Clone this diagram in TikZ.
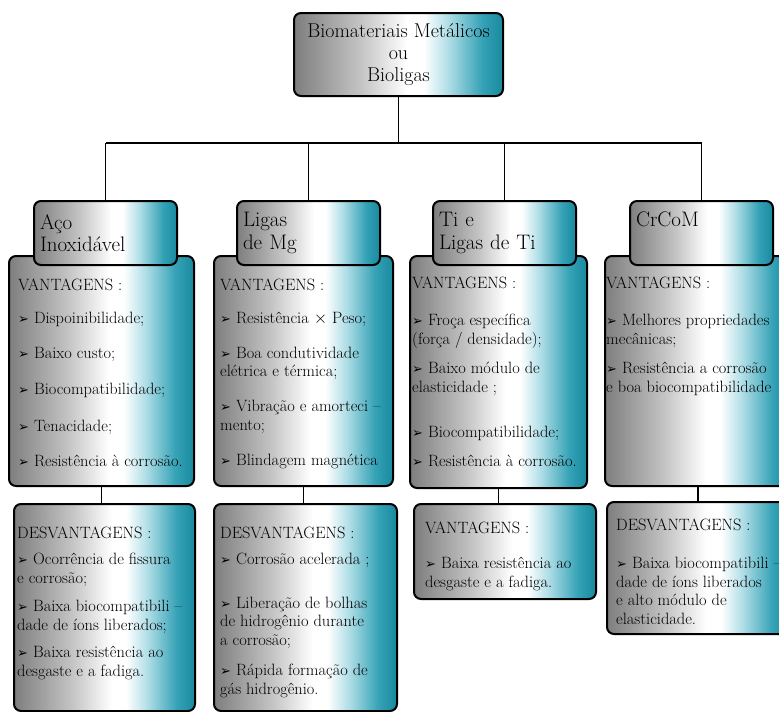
\documentclass[tikz,border=0pt]{standalone}
\usepackage{fontspec}
\newfontfamily\dingfont{DejaVu Sans}
\usetikzlibrary{positioning}
\definecolor{BioGray}{HTML}{7E7E7E}
\definecolor{BioGrayLight}{HTML}{C4C4C4}
\definecolor{BioCyan}{HTML}{AEDDE6}
\definecolor{BioTeal}{HTML}{35A2B6}
\definecolor{BioTealDeep}{HTML}{18899D}
\pgfdeclarehorizontalshading{biofill}{100bp}{color(0bp)=(BioGray); color(25bp)=(BioGray);
  color(41bp)=(BioGrayLight); color(52bp)=(white); color(56bp)=(white); color(62bp)=(BioCyan);
  color(70bp)=(BioTeal); color(75bp)=(BioTealDeep); color(100bp)=(BioTealDeep)}
\newcommand{\bul}{{\dingfont\fontsize{13}{13}\selectfont ➢}\ }
\newcommand{\bodyfont}{\fontsize{16.4}{18.7}\selectfont}
\newcommand{\tabfont}{\fontsize{21}{22.5}\selectfont}
\tikzset{
  card/.style={draw=black,line width=2pt,rounded corners=7pt,shade,shading=biofill,inner sep=0pt},
  tab/.style={card,anchor=north west,minimum height=64pt,text width=131pt,inner xsep=6pt,align=left,font=\tabfont},
  pane/.style={card,anchor=north west},
  txt/.style={anchor=north west,align=left,inner sep=0pt,font=\bodyfont},
  link/.style={line width=1.6pt}
}

\begin{document}
\begin{tikzpicture}[x=1pt,y=-1pt]
  \useasboundingbox (0,0) rectangle (779,712);

  % panels
  \node[pane,minimum width=185pt,minimum height=230pt] (acoV) at (8,255) {};
  \node[pane,minimum width=181pt,minimum height=207pt] (acoD) at (13,503) {};
  \node[pane,minimum width=179pt,minimum height=230pt] (mgV) at (213,255) {};
  \node[pane,minimum width=183pt,minimum height=207pt] (mgD) at (213,503) {};
  \node[pane,minimum width=177pt,minimum height=232pt] (tiV) at (409,255) {};
  \node[pane,minimum width=182pt,minimum height=95pt] (tiB) at (413,503) {};
  \node[pane,minimum width=186pt,minimum height=230pt] (crV) at (604,255) {};
  \node[pane,minimum width=184pt,minimum height=132pt] (crD) at (606,501) {};

  % tabs
  \node[tab] (aco) at (33,200) {Aço\\Inoxidável};
  \node[tab] (mg) at (236,200) {Ligas\\de Mg};
  \node[tab] (ti) at (432,200) {Ti e\\Ligas de Ti};
  \node[tab,text depth=27pt] (crcom) at (629,200) {CrCoM};

  \node[card,anchor=north west,minimum width=209pt,minimum height=83pt,align=center,
    font=\fontsize{20}{22}\selectfont] (bio) at (293,12) {Biomateriais Metálicos\\ou\\Bioligas};

  % links
  \draw[link] (bio.south) -- ++(0,46) coordinate (hub);
  \draw[link] (hub -| aco.north) -- (hub -| crcom.north);
  \foreach \t in {aco,mg,ti,crcom}
    \draw[link] (hub -| \t.north) -- (\t.north);
  \foreach \p in {aco,mg,cr}
    \draw[link] (\p V.south) -- (\p V.south |- \p D.north);
  \draw[link] (tiV.south) -- (tiV.south |- tiB.north);

  % texts
  \node[txt] (acoVtxt) at (18,279) {VANTAGENS :\\[14pt]
    \bul Dispoinibilidade;\\[16pt]
    \bul Baixo custo;\\[18pt]
    \bul Biocompatibilidade;\\[18pt]
    \bul Tenacidade;\\[16pt]
    \bul Resistência à corrosão.};
  \node[txt] (acoDtxt) at (17,527) {DESVANTAGENS :\\[7pt]
    \bul Ocorrência de fissura\\e corrosão;\\[10pt]
    \bul Baixa biocompatibili –\\dade de íons liberados;\\[8pt]
    \bul Baixa resistência ao\\desgaste e a fadiga.};
  \node[txt] (mgVtxt) at (220,279) {VANTAGENS :\\[14pt]
    \bul Resistência $\times$ Peso;\\[16pt]
    \bul Boa condutividade\\elétrica e térmica;\\[16pt]
    \bul Vibração e amorteci –\\mento;\\[16pt]
    \bul Blindagem magnética};
  \node[txt] (mgDtxt) at (220,527) {DESVANTAGENS :\\[7pt]
    \bul Corrosão acelerada ;\\[25pt]
    \bul Liberação de bolhas\\de hidrogênio durante\\a corrosão;\\[11pt]
    \bul Rápida formação de\\gás hidrogênio.};
  \node[txt] (tiVtxt) at (412,277) {VANTAGENS :\\[18pt]
    \bul Froça específica\\(força / densidade);\\[11pt]
    \bul Baixo módulo de\\elasticidade ;\\[26.5pt]
    \bul Biocompatibilidade;\\[9.5pt]
    \bul Resistência à corrosão.};
  \node[txt] (tiBtxt) at (425,522) {VANTAGENS :\\[16pt]
    \bul Baixa resistência ao\\desgaste e a fadiga.};
  \node[txt] (crVtxt) at (606,277) {VANTAGENS :\\[18pt]
    \bul Melhores propriedades\\mecânicas;\\[11pt]
    \bul Resistência a corrosão\\e boa biocompatibilidade};
  \node[txt] (crDtxt) at (616,519) {DESVANTAGENS :\\[19pt]
    \bul Baixa biocompatibili –\\dade de íons liberados\\e alto módulo de\\elasticidade.};
\end{tikzpicture}
\end{document}
